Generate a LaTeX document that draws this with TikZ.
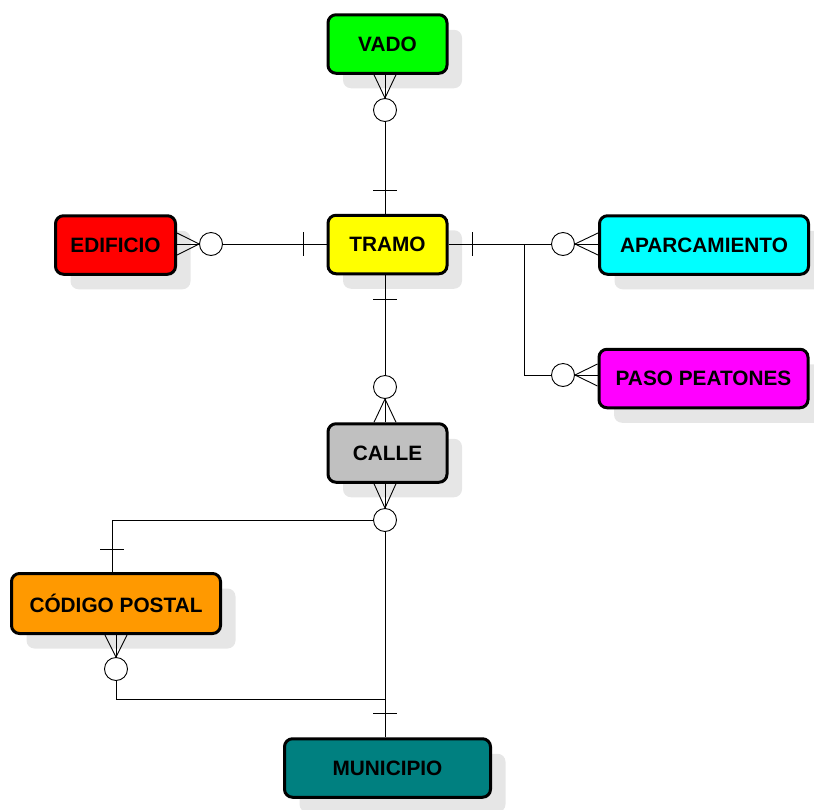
\documentclass[tikz,border=0pt]{standalone}
\usepackage{fontspec}
\setmainfont{Liberation Sans}
\usetikzlibrary{calc,shadows}
\definecolor{cVado}{HTML}{00FF00}
\definecolor{cTramo}{HTML}{FFFF00}
\definecolor{cEdif}{HTML}{FF0000}
\definecolor{cAparc}{HTML}{00FFFF}
\definecolor{cPaso}{HTML}{FF00FF}
\definecolor{cCalle}{HTML}{C0C0C0}
\definecolor{cCP}{HTML}{FF9900}
\definecolor{cMun}{HTML}{008080}
\definecolor{shadowgray}{HTML}{E6E6E6}
\begin{document}
\begin{tikzpicture}[x=1pt,y=-1pt,
  ent/.style={draw=black, line width=3pt, rounded corners=8pt,
    font=\fontsize{20.8}{24}\selectfont\bfseries, inner sep=0pt,
    minimum height=58.5pt,
    drop shadow={shadow xshift=15pt, shadow yshift=-15pt, fill=shadowgray, opacity=1, draw=none}},
  conn/.style={line width=0.9pt, draw=black},
  opt/.style={circle, draw=black, line width=0.9pt, fill=white, minimum size=23pt, inner sep=0pt},
]
\useasboundingbox (0,0) rectangle (814,809);

% entities
\node[ent, fill=cVado,  minimum width=119pt] (VADO) at (387.5,44) {VADO};
\node[ent, fill=cTramo, minimum width=119pt] (TRAMO) at (387.5,244.5) {TRAMO};
\node[ent, fill=cEdif,  minimum width=120pt] (EDIF) at (115.5,245) {EDIFICIO};
\node[ent, fill=cAparc, minimum width=209pt] (APARC) at (704,245) {APARCAMIENTO};
\node[ent, fill=cPaso,  minimum width=209pt] (PASO) at (703.5,378.5) {PASO PEATONES};
\node[ent, fill=cCalle, minimum width=119pt] (CALLE) at (387.5,453) {CALLE};
\node[ent, fill=cCP,    minimum width=209pt, minimum height=60pt] (CP) at (116,603.5) {CÓDIGO POSTAL};
\node[ent, fill=cMun,   minimum width=206pt] (MUN) at (387.5,768) {MUNICIPIO};

\coordinate (cx) at (385,0);
\coordinate (ey) at (0,244);
\coordinate (py) at (0,375);

% optional circles
\node[opt] (o1) at (385,110) {};
\node[opt] (o2) at (211,244) {};
\node[opt] (o3) at (563,244) {};
\node[opt] (o4) at (563,375) {};
\node[opt] (o5) at (385,387) {};
\node[opt] (o6) at (385,520) {};
\node[opt] (o7) at (116,669) {};

% VADO -- TRAMO
\draw[conn] ($(VADO.south -| cx)+(-11,0)$) -- (o1.north) -- ($(VADO.south -| cx)+(11,0)$);
\draw[conn] (VADO.south -| cx) -- (o1.north);
\draw[conn] (o1.south) -- (TRAMO.north -| cx);
\coordinate (t1) at (385,190);
\draw[conn] ($(t1)+(-12,0)$) -- ($(t1)+(12,0)$);

% EDIFICIO -- TRAMO
\draw[conn] ($(EDIF.east |- ey)+(0,-11)$) -- (o2.west) -- ($(EDIF.east |- ey)+(0,11)$);
\draw[conn] (EDIF.east |- ey) -- (o2.west);
\draw[conn] (o2.east) -- (TRAMO.west |- ey);
\coordinate (t2) at (303,244);
\draw[conn] ($(t2)+(0,-12)$) -- ($(t2)+(0,12)$);

% TRAMO -- APARCAMIENTO / PASO PEATONES
\coordinate (br) at (524,244);
\draw[conn] (TRAMO.east |- ey) -- (o3.west);
\draw[conn] ($(APARC.west |- ey)+(0,-11)$) -- (o3.east) -- ($(APARC.west |- ey)+(0,11)$);
\draw[conn] (APARC.west |- ey) -- (o3.east);
\coordinate (t3) at (472,244);
\draw[conn] ($(t3)+(0,-12)$) -- ($(t3)+(0,12)$);
\draw[conn] (br) -- (br |- py) -- (o4.west);
\draw[conn] ($(PASO.west |- py)+(0,-11)$) -- (o4.east) -- ($(PASO.west |- py)+(0,11)$);
\draw[conn] (PASO.west |- py) -- (o4.east);

% TRAMO -- CALLE
\draw[conn] (TRAMO.south -| cx) -- (o5.north);
\coordinate (t4) at (385,299);
\draw[conn] ($(t4)+(-12,0)$) -- ($(t4)+(12,0)$);
\draw[conn] ($(CALLE.north -| cx)+(-11,0)$) -- (o5.south) -- ($(CALLE.north -| cx)+(11,0)$);
\draw[conn] (CALLE.north -| cx) -- (o5.south);

% CALLE -- CODIGO POSTAL / MUNICIPIO
\draw[conn] ($(CALLE.south -| cx)+(-11,0)$) -- (o6.north) -- ($(CALLE.south -| cx)+(11,0)$);
\draw[conn] (CALLE.south -| cx) -- (o6.north);
\coordinate (cpx) at (112,0);
\draw[conn] (o6.west) -- (o6.west -| cpx) -- (CP.north -| cpx);
\coordinate (t5) at (112,549);
\draw[conn] ($(t5)+(-12,0)$) -- ($(t5)+(12,0)$);
\draw[conn] (o6.south) -- (MUN.north -| cx);
\coordinate (t6) at (385,713);
\draw[conn] ($(t6)+(-12,0)$) -- ($(t6)+(12,0)$);

% CODIGO POSTAL -- MUNICIPIO
\draw[conn] ($(CP.south)+(-11,0)$) -- (o7.north) -- ($(CP.south)+(11,0)$);
\draw[conn] (CP.south) -- (o7.north);
\coordinate (jy) at (0,699);
\draw[conn] (o7.south) -- (o7.south |- jy) -- (cx |- jy);
\end{tikzpicture}
\end{document}
